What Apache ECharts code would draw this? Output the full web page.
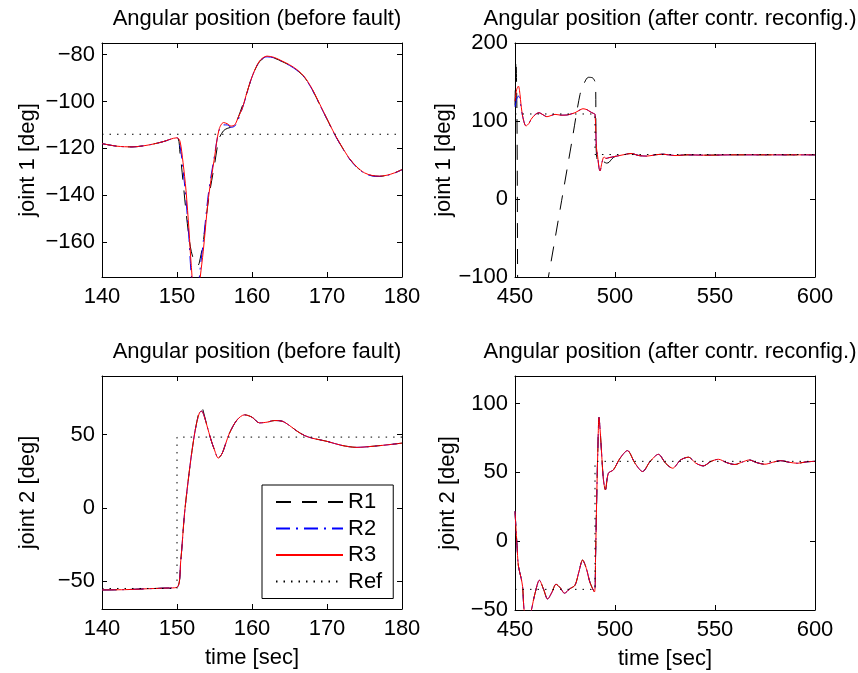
<!DOCTYPE html>
<html>
<head>
<meta charset="UTF-8">
<title>Angular position</title>
<script src="https://cdn.jsdelivr.net/npm/echarts@6/dist/echarts.min.js"></script>
<style>
  html, body { margin: 0; padding: 0; background: #fff; }
  #main { width: 858px; height: 673px; }
</style>
</head>
<body>
<div id="main"></div>
<script type="text/javascript">
// joint 1, before fault (time in sec, angle in deg)
var tlTime = [140, 142, 144, 146, 148, 150, 150.4, 150.8, 151.2, 151.6, 151.9, 152.4, 152.8, 153.1, 153.5, 154.2, 155, 155.6, 156.2, 156.7, 157.2, 157.7, 158.2, 158.7, 159.2, 160, 161, 162, 163, 164, 165, 166, 167, 168, 169, 170, 171, 172, 173, 174, 175, 176, 177, 178, 179, 180];
var tlR1 = [-118.0, -119.1, -119.4, -118.7, -117.3, -115.5, -122, -134, -147, -158, -164, -169, -170, -167, -160, -142, -127, -116, -112.5, -111.5, -111, -110, -106.5, -102, -97.5, -89.5, -83, -81, -81.5, -82.9, -84.5, -86.6, -89.7, -94.7, -101.1, -107.5, -113.9, -119.5, -124.5, -128.1, -130.6, -131.7, -132, -131.5, -130.5, -129.1];
var tlR2 = [-118.0, -119.1, -119.4, -118.7, -117.3, -115.5, -119, -129, -142, -159, -174, -185, -180, -171, -160, -139, -123, -112.5, -110, -110, -111, -110.5, -107.5, -103, -98, -89.5, -82.9, -80.9, -81.4, -82.9, -84.6, -86.7, -89.8, -94.8, -101.2, -107.6, -114, -119.6, -124.6, -128.2, -130.7, -131.8, -132, -131.6, -130.6, -129.2];
var tlR3 = [-118.0, -119.1, -119.4, -118.7, -117.3, -115.5, -117, -126, -138, -155, -170, -186, -184, -175, -164, -141, -124, -112, -109, -109.5, -110.5, -110, -106.5, -103, -97.5, -89.5, -82.7, -80.6, -81.2, -82.7, -84.3, -86.4, -89.5, -94.5, -100.9, -107.4, -113.8, -119.4, -124.4, -128.0, -130.5, -131.6, -131.9, -131.5, -130.5, -129.1];
var tlRefTime = [140, 180];
var tlRef = [-114, -114];

// joint 1, after controller reconfiguration
var trTime = [450, 450.8, 451.7, 452.5, 453, 454, 455.5, 457, 458, 460, 462, 464, 466, 468, 470, 473, 476, 478, 480, 482, 484, 486, 487.5, 489, 490, 490.7, 491.2, 492, 492.5, 493.5, 494.5, 495.5, 497, 500, 504, 508, 512, 516, 520, 524, 530, 536, 545, 560, 580, 600];
var trR2 = [118, 128, 132, 128, 118, 104, 93.6, 97, 102, 108, 110.6, 108, 105.5, 107, 108.5, 107.5, 107.7, 109, 110.6, 113.5, 115.7, 114.5, 112, 110, 108.5, 66, 57.4, 40, 36, 47, 54, 52, 53, 54.5, 56.6, 58.3, 55.7, 55, 56.6, 57.4, 55.7, 56.6, 56.2, 56.6, 56.6, 56.6];
var trR3 = [125.5, 140, 144.7, 134, 121, 104, 93.6, 97, 102, 108, 110.6, 108, 105.5, 107, 108.5, 107.5, 107.7, 109, 110.6, 113.5, 115.7, 114.5, 112, 110, 108.5, 66, 57.4, 40, 36, 47, 54, 52, 53, 54.5, 56.6, 58.3, 55.7, 55, 56.6, 57.4, 55.7, 56.6, 56.2, 56.6, 56.6, 56.6];
var trTimeR1 = [450, 450.5, 451, 451.3, 451.6, 466.7, 473.3, 478.3, 482.5, 484.5, 486.7, 488.8, 490.3, 490.5, 490.9, 492, 494, 495.8, 497, 498.3, 500, 504, 508, 512, 516, 520, 524, 530, 536, 545, 560, 580, 600];
var trR1 = [120, 178, 100, -100, -320, -100, -2.3, 71.8, 134, 148, 156, 155.3, 147, 74.5, 53, 45, 48, 46, 47, 51, 54.5, 56.6, 58.3, 55.7, 55, 56.6, 57.4, 55.7, 56.6, 56.2, 56.6, 56.6, 56.6];
var trRefTime = [450, 490, 490, 600];
var trRef = [109, 109, 57, 57];

// joint 2, before fault
var blTime = [140, 143, 146, 148, 150, 150.5, 151, 151.5, 152, 152.5, 153, 153.3, 153.6, 154, 154.5, 155, 155.5, 156, 156.5, 157, 158, 159, 160, 161, 162, 163, 164, 165, 166, 167, 168, 170, 172, 174, 176, 178, 180];
var blR1 = [-56, -55.8, -55.2, -54.8, -54.2, -36, -4, 19, 39, 55, 66.5, 68.5, 64, 56, 47, 39.5, 34, 37, 44, 51, 60, 63.5, 61.9, 58, 58.5, 59.6, 59.2, 56.2, 52.4, 49.4, 47.6, 45.4, 42.6, 41.3, 42, 43, 44.2];
var blR3 = [-56, -55.8, -55.2, -54.8, -54.2, -36, -4, 19, 39, 55, 65, 66, 63, 56, 47, 39.5, 34, 37, 44, 51, 60, 63.5, 61.9, 58, 58.5, 59.6, 59.2, 56.2, 52.4, 49.4, 47.6, 45.4, 42.6, 41.3, 42, 43, 44.2];
var blR2 = blR3; // overlaps R3 in the figure
var blRefTime = [140, 150, 150, 180];
var blRef = [-55, -55, 48.3, 48.3];

// joint 2, after controller reconfiguration
var brTime = [450, 451, 451.7, 453, 453.8, 454.5, 455.5, 456.5, 457.5, 458.3, 460, 462.2, 464.3, 466.3, 468.5, 470.5, 472.7, 474.7, 477.5, 480, 482, 483.8, 485.7, 487.5, 489.7, 490.3, 490.8, 491.4, 492, 492.6, 493.3, 494.2, 495.2, 496.7, 499.2, 502.5, 506.2, 510, 513.8, 517.5, 521.7, 525.3, 528.8, 532.8, 536.7, 540.5, 544.2, 547.8, 551.7, 555.8, 560, 563.3, 567.2, 570.8, 575, 578.8, 582.8, 587.2, 591.3, 595.5, 600];
var brR3 = [21.7, -3, -18, -26.5, -33, -49.4, -56, -57, -54, -49.4, -38, -28.4, -35, -42, -37, -31.3, -34, -37.8, -34.5, -32, -22, -13.7, -20, -30, -36.9, -10, 27.7, 65, 89.9, 80, 63.9, 45, 37.3, 49.4, 51.8, 60.2, 65.8, 56.6, 50.6, 57.8, 63.1, 56.6, 53, 59, 61, 56.6, 54.7, 57.8, 59.5, 57.1, 55.7, 57.3, 59, 57.1, 55.9, 57.3, 58.5, 57.3, 56.6, 57.6, 58];
var brR1 = brR3; // the three runs overlap here
var brR2 = brR3;
var brRefTime = [450, 490, 490, 600];
var brRef = [-35, -35, 58, 58];

var titles = ['Angular position (before fault)', 'Angular position (after contr. reconfig.)',
              'Angular position (before fault)', 'Angular position (after contr. reconfig.)'];
var yNames = ['joint 1 [deg]', 'joint 1 [deg]', 'joint 2 [deg]', 'joint 2 [deg]'];
var xRanges = [[140, 180], [450, 600], [140, 180], [450, 600]];
var xTicks = [[140, 150, 160, 170, 180], [450, 500, 550, 600], [140, 150, 160, 170, 180], [450, 500, 550, 600]];
var yRanges = [[-175, -75], [-100, 200], [-69, 90], [-50, 120]];
var yTicks = [[-160, -140, -120, -100, -80], [-100, 0, 100, 200], [-50, 0, 50], [-50, 0, 50, 100]];

var FONT = 'Liberation Sans, Arial, Helvetica, sans-serif';
var grids = [
    { left: 102, top: 43, width: 300, height: 234 },
    { left: 515, top: 43, width: 300, height: 234 },
    { left: 102, top: 376, width: 300, height: 233 },
    { left: 515, top: 376, width: 300, height: 234 }
];

function zip(t, v) {
    return t.map(function (x, i) { return [x, v[i]]; });
}
function fmt(v) {
    return String(v).replace('-', '\u2212');
}

var xAxes = [], yAxes = [];
grids.forEach(function (g, i) {
    var lineOpt = { show: true, onZero: false, lineStyle: { color: '#000', width: 1 } };
    var tickOpt = { show: true, inside: true, length: 5, customValues: xTicks[i], lineStyle: { color: '#000' } };
    xAxes.push({
        type: 'value', gridIndex: i, position: 'bottom', min: xRanges[i][0], max: xRanges[i][1],
        axisLine: lineOpt, axisTick: tickOpt, splitLine: { show: false },
        axisLabel: { customValues: xTicks[i], color: '#000', fontSize: 22, fontFamily: FONT, margin: 9, formatter: fmt },
        name: i >= 2 ? 'time [sec]' : '', nameLocation: 'middle', nameGap: 38,
        nameTextStyle: { color: '#000', fontSize: 22, fontFamily: FONT }
    });
    xAxes.push({
        type: 'value', gridIndex: i, position: 'top', min: xRanges[i][0], max: xRanges[i][1],
        axisLine: lineOpt, axisTick: tickOpt, splitLine: { show: false }, axisLabel: { show: false }
    });
    var yTickOpt = { show: true, inside: true, length: 5, customValues: yTicks[i], lineStyle: { color: '#000' } };
    yAxes.push({
        type: 'value', gridIndex: i, position: 'left', min: yRanges[i][0], max: yRanges[i][1],
        axisLine: lineOpt, axisTick: yTickOpt, splitLine: { show: false },
        axisLabel: { customValues: yTicks[i], color: '#000', fontSize: 22, fontFamily: FONT, margin: 7, formatter: fmt },
        name: yNames[i], nameLocation: 'middle', nameRotate: 90, nameGap: i % 2 ? 56 : 63,
        nameTextStyle: { color: '#000', fontSize: 22, fontFamily: FONT }
    });
    yAxes.push({
        type: 'value', gridIndex: i, position: 'right', min: yRanges[i][0], max: yRanges[i][1],
        axisLine: lineOpt, axisTick: yTickOpt, splitLine: { show: false }, axisLabel: { show: false }
    });
});

var styles = {
    R1: { color: '#000000', width: 1, type: [15, 11] },
    R2: { color: '#0000ff', width: 1, type: [14, 6, 2, 6] },
    R3: { color: '#ff0000', width: 1, type: 'solid' },
    Ref: { color: '#000000', width: 1, type: [1.5, 6] }
};
function line(name, g, t, v) {
    var isRef = name === 'Ref';
    return {
        name: name, type: 'line', xAxisIndex: 2 * g, yAxisIndex: 2 * g,
        data: zip(t, v), symbol: 'none', showSymbol: false, silent: true,
        smooth: isRef ? false : 0.3,
        itemStyle: { color: styles[name].color }, lineStyle: styles[name]
    };
}

var series = [
    line('R1', 0, tlTime, tlR1), line('R2', 0, tlTime, tlR2), line('R3', 0, tlTime, tlR3), line('Ref', 0, tlRefTime, tlRef),
    line('R1', 1, trTimeR1, trR1), line('R2', 1, trTime, trR2), line('R3', 1, trTime, trR3), line('Ref', 1, trRefTime, trRef),
    line('R1', 2, blTime, blR1), line('R2', 2, blTime, blR2), line('R3', 2, blTime, blR3), line('Ref', 2, blRefTime, blRef),
    line('R1', 3, brTime, brR1), line('R2', 3, brTime, brR2), line('R3', 3, brTime, brR3), line('Ref', 3, brRefTime, brRef)
];

var chart = echarts.init(document.getElementById('main'), null, { renderer: 'canvas' });
chart.setOption({
    animation: false,
    backgroundColor: '#fff',
    title: grids.map(function (g, i) {
        return {
            text: titles[i], left: g.left + g.width / 2, top: i < 2 ? 3 : 336, textAlign: 'center',
            textStyle: { color: '#000', fontSize: 22, fontWeight: 'normal', fontFamily: FONT }
        };
    }),
    legend: {
        data: ['R1', 'R2', 'R3', 'Ref'], orient: 'vertical', left: 262, top: 485,
        itemWidth: 67, itemHeight: 14, itemGap: 4.5, padding: [6, 11, 6, 13],
        itemStyle: { color: 'transparent', borderWidth: 0, opacity: 0 },
        backgroundColor: '#fff', borderColor: '#000', borderWidth: 1, borderRadius: 0,
        textStyle: { color: '#000', fontSize: 22, fontFamily: FONT }, selectedMode: false
    },
    grid: grids,
    xAxis: xAxes,
    yAxis: yAxes,
    series: series
});
</script>
</body>
</html>
